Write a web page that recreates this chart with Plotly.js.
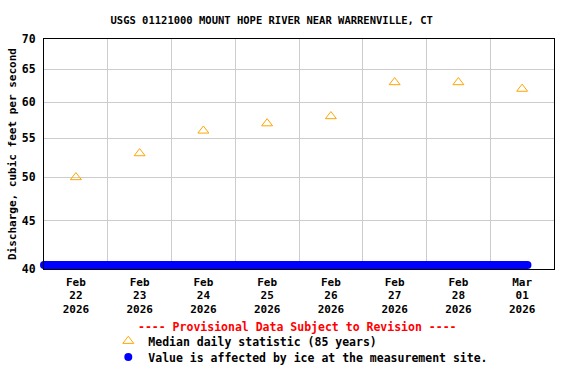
<!DOCTYPE html>
<html><head><meta charset="utf-8">
<script src="https://cdn.plot.ly/plotly-3.0.1.min.js"></script>
<style>html,body{margin:0;padding:0;background:#fff}</style>
</head><body><div id="chart" style="width:576px;height:384px"></div>
<script>
// ---- data ----
const medianDates = ["2026-02-22 12:00","2026-02-23 12:00","2026-02-24 12:00","2026-02-25 12:00",
                     "2026-02-26 12:00","2026-02-27 12:00","2026-02-28 12:00","2026-03-01 12:00"];
const medianValues = [50, 53, 56, 57, 58, 63, 63, 62];
const iceDates = ["2026-02-22 00:00","2026-02-23 00:00","2026-02-24 00:00","2026-02-25 00:00",
                  "2026-02-26 00:00","2026-02-27 00:00","2026-02-28 00:00","2026-03-01 00:00","2026-03-01 14:00"];
const iceLevel = [40.4, 40.4, 40.4, 40.4, 40.4, 40.4, 40.4, 40.4, 40.4];
const tickMonths = ["Feb","Feb","Feb","Feb","Feb","Feb","Feb","Mar"];
const tickDays = ["22","23","24","25","26","27","28","01"];
const tickYears = ["2026","2026","2026","2026","2026","2026","2026","2026"];
const yTicks = [40, 45, 50, 55, 60, 65, 70];
const dayStarts = ["2026-02-23","2026-02-24","2026-02-25","2026-02-26","2026-02-27","2026-02-28","2026-03-01"];

const FONT = "DejaVu Sans Mono";
const xRange = ["2026-02-22 00:00", "2026-03-02 00:00"];

const traces = [
  {x: iceDates, y: iceLevel, type: 'scatter', mode: 'lines+markers',
   line: {color: '#0000FF', width: 8}, marker: {color: '#0000FF', size: 8, symbol: 'circle'},
   showlegend: false, cliponaxis: false, hoverinfo: 'skip'},
  {x: medianDates, y: medianValues, type: 'scatter', mode: 'markers',
   name: 'Median daily statistic (85 years)', legend: 'legend',
   marker: {symbol: 'triangle-up-open', size: 9.5, color: '#FFA500', line: {width: 1, color: '#FFA500'}}},
  {x: [null], y: [null], type: 'scatter', mode: 'markers',
   name: 'Value is affected by ice at the measurement site.', legend: 'legend2',
   marker: {symbol: 'circle', size: 8, color: '#0000FF'}},
  // carriers for the 2nd and 3rd rows of the date labels
  {x: [null], y: [null], xaxis: 'x2', type: 'scatter', mode: 'markers', showlegend: false},
  {x: [null], y: [null], xaxis: 'x3', type: 'scatter', mode: 'markers', showlegend: false}
];

const tickFont = {family: FONT, size: 11.5, weight: 'bold', color: '#000'};
const baseX = {
  type: 'date', range: xRange, autorange: false, showgrid: false, zeroline: false, ticks: '',
  tickvals: medianDates, tickfont: {family: FONT, size: 11, weight: 'bold', color: '#000'}
};
const legFont = {family: FONT, size: 11.5, weight: 'bold', color: '#000'};
const legBase = {xref: 'container', yref: 'container', xanchor: 'left', yanchor: 'middle',
                 bgcolor: 'rgba(0,0,0,0)', borderwidth: 0, itemwidth: 30, font: legFont};

const layout = {
  width: 576, height: 384,
  margin: {l: 44, r: 22, t: 38.5, b: 115.2, autoexpand: false},
  paper_bgcolor: '#fff', plot_bgcolor: '#fff',
  font: {family: FONT, weight: 'bold', color: '#000'},
  title: {text: 'USGS 01121000 MOUNT HOPE RIVER NEAR WARRENVILLE, CT',
          font: {family: FONT, size: 10.5, weight: 'bold', color: '#000'},
          x: 0.4717, xanchor: 'center', xref: 'container', y: 0.948, yanchor: 'middle', yref: 'container'},
  xaxis: Object.assign({}, baseX, {
    ticktext: tickMonths, ticklabelstandoff: 3,
    showline: true, mirror: true, linecolor: '#000', linewidth: 1,
    minor: {tickvals: dayStarts, showgrid: true, gridcolor: '#cccccc', gridwidth: 1, ticks: ''}
  }),
  xaxis2: Object.assign({}, baseX, {overlaying: 'x', anchor: 'y', side: 'bottom',
    ticktext: tickDays, ticklabelstandoff: 18, showline: false}),
  xaxis3: Object.assign({}, baseX, {overlaying: 'x', anchor: 'y', side: 'bottom',
    ticktext: tickYears, ticklabelstandoff: 32, showline: false}),
  yaxis: {
    type: 'log', range: [Math.log10(40), Math.log10(70)], autorange: false,
    tickvals: yTicks, ticktext: yTicks.map(String), ticks: '',
    showgrid: true, gridcolor: '#cccccc', gridwidth: 1, zeroline: false,
    showline: true, mirror: true, linecolor: '#000', linewidth: 1,
    ticklabelstandoff: 5,
    tickfont: tickFont
  },
  showlegend: true,
  legend: Object.assign({}, legBase, {x: 0.188, y: 1 - 341 / 384}),
  legend2: Object.assign({}, legBase, {x: 0.188, y: 1 - 357 / 384}),
  annotations: [
    {text: '---- Provisional Data Subject to Revision ----', xref: 'paper', yref: 'paper',
     x: 0.498, y: -0.253, xanchor: 'center', yanchor: 'middle', showarrow: false,
     font: {family: FONT, size: 11.5, weight: 'bold', color: '#FF0000'}},
    {text: 'Discharge, cubic feet per second', xref: 'paper', yref: 'paper',
     x: -0.0627, y: 0.5, xanchor: 'center', yanchor: 'middle', textangle: -90, showarrow: false,
     font: {family: FONT, size: 11, weight: 'bold', color: '#000'}}
  ]
};

Plotly.newPlot('chart', traces, layout, {displayModeBar: false, staticPlot: true});
</script></body></html>
